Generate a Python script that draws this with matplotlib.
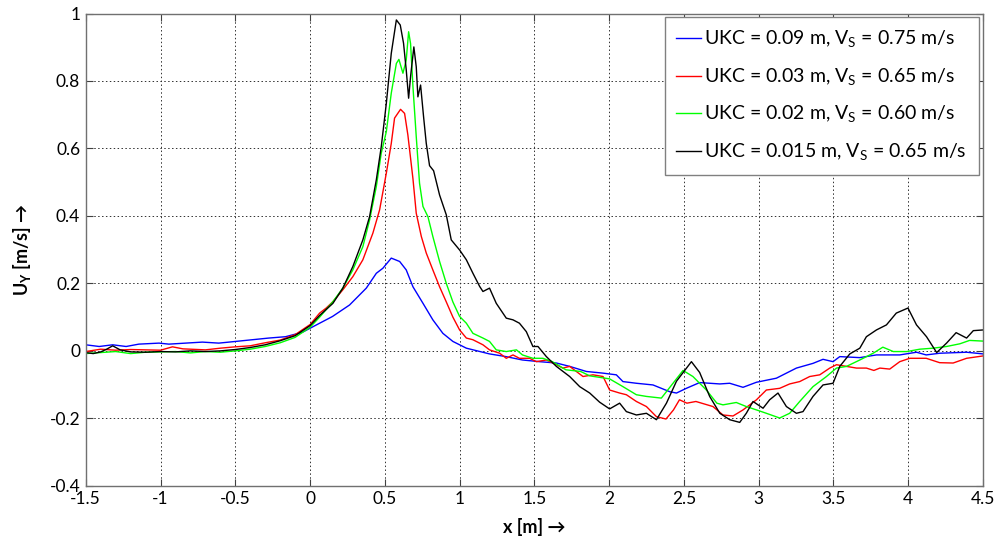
import matplotlib
matplotlib.use('Agg')
import matplotlib.pyplot as plt

plt.rcParams['font.family'] = ['Lato', 'DejaVu Sans']
plt.rcParams['mathtext.fontset'] = 'custom'
plt.rcParams['mathtext.rm'] = 'Lato'
plt.rcParams['mathtext.bf'] = 'Lato:bold'
plt.rcParams['axes.unicode_minus'] = False

# UKC = 0.09 m, Vs = 0.75 m/s
x_blue = [-1.50, -1.41, -1.32, -1.23, -1.145, -1.01, -0.944, -0.833, -0.72, -0.61,
          -0.498, -0.387, -0.276, -0.164, -0.052, 0.064, 0.15, 0.264, 0.376, 0.443,
          0.487, 0.543, 0.599, 0.643, 0.688, 0.755, 0.821, 0.888, 0.955, 1.045,
          1.2, 1.31, 1.42, 1.535, 1.647, 1.736, 1.847, 1.959, 2.048, 2.092,
          2.182, 2.293, 2.349, 2.405, 2.45, 2.516, 2.605, 2.74, 2.806, 2.895,
          2.985, 3.118, 3.252, 3.363, 3.43, 3.497, 3.542, 3.676, 3.787, 3.943,
          4.055, 4.12, 4.21, 4.39, 4.5]
y_blue = [0.018, 0.013, 0.018, 0.013, 0.020, 0.023, 0.020, 0.023, 0.026, 0.023,
          0.028, 0.033, 0.038, 0.042, 0.055, 0.082, 0.102, 0.136, 0.186, 0.230,
          0.245, 0.275, 0.265, 0.240, 0.190, 0.141, 0.092, 0.052, 0.028, 0.008,
          -0.009, -0.017, -0.027, -0.032, -0.036, -0.046, -0.061, -0.066, -0.071, -0.091,
          -0.096, -0.101, -0.111, -0.121, -0.125, -0.111, -0.094, -0.098, -0.096, -0.108,
          -0.093, -0.081, -0.051, -0.037, -0.025, -0.032, -0.017, -0.020, -0.012, -0.012,
          -0.004, -0.012, -0.007, -0.004, -0.009]

# UKC = 0.03 m, Vs = 0.65 m/s
x_red = [-1.5, -1.4, -1.3, -1.2, -1.1, -1.0, -0.92, -0.85, -0.7, -0.6,
         -0.5, -0.4, -0.3, -0.2, -0.1, 0.0, 0.064, 0.108, 0.153, 0.219,
         0.286, 0.353, 0.42, 0.465, 0.51, 0.543, 0.565, 0.605, 0.632, 0.654,
         0.688, 0.71, 0.744, 0.777, 0.821, 0.866, 0.911, 0.955, 1.0, 1.045,
         1.089, 1.156, 1.2, 1.268, 1.312, 1.357, 1.40, 1.468, 1.513, 1.58,
         1.647, 1.69, 1.736, 1.825, 1.892, 1.959, 2.003, 2.07, 2.115, 2.182,
         2.249, 2.316, 2.38, 2.43, 2.47, 2.52, 2.58, 2.694, 2.761, 2.828,
         2.895, 2.985, 3.051, 3.14, 3.207, 3.274, 3.341, 3.408, 3.475, 3.52,
         3.587, 3.654, 3.72, 3.77, 3.81, 3.876, 3.943, 4.01, 4.12, 4.21,
         4.30, 4.39, 4.5]
y_red = [-0.002, 0.005, 0.002, 0.004, 0.003, 0.002, 0.012, 0.006, 0.003, 0.008,
         0.012, 0.015, 0.024, 0.032, 0.048, 0.078, 0.112, 0.127, 0.146, 0.181,
         0.220, 0.270, 0.349, 0.418, 0.527, 0.615, 0.690, 0.716, 0.704, 0.640,
         0.510, 0.408, 0.339, 0.290, 0.240, 0.190, 0.145, 0.100, 0.062, 0.038,
         0.033, 0.018, 0.003, -0.007, -0.022, -0.012, -0.022, -0.022, -0.032, -0.027,
         -0.041, -0.051, -0.046, -0.076, -0.071, -0.076, -0.116, -0.125, -0.130, -0.150,
         -0.165, -0.195, -0.202, -0.175, -0.145, -0.155, -0.150, -0.165, -0.190, -0.193,
         -0.175, -0.145, -0.116, -0.111, -0.098, -0.091, -0.076, -0.071, -0.051, -0.041,
         -0.046, -0.051, -0.051, -0.058, -0.051, -0.054, -0.032, -0.022, -0.022, -0.035,
         -0.036, -0.022, -0.015]

# UKC = 0.02 m, Vs = 0.60 m/s
x_green = [-1.5, -1.4, -1.3, -1.2, -1.1, -1.0, -0.9, -0.8, -0.7, -0.6,
           -0.5, -0.4, -0.3, -0.2, -0.1, 0.0, 0.064, 0.153, 0.219, 0.286,
           0.353, 0.398, 0.443, 0.476, 0.51, 0.543, 0.577, 0.594, 0.621, 0.643,
           0.659, 0.672, 0.688, 0.71, 0.732, 0.755, 0.788, 0.821, 0.866, 0.911,
           0.955, 1.0, 1.045, 1.089, 1.156, 1.2, 1.245, 1.312, 1.38, 1.42,
           1.49, 1.557, 1.62, 1.71, 1.809, 1.87, 2.003, 2.092, 2.182, 2.249,
           2.349, 2.427, 2.494, 2.56, 2.65, 2.72, 2.761, 2.85, 2.917, 2.985,
           3.051, 3.14, 3.207, 3.274, 3.363, 3.453, 3.52, 3.587, 3.676, 3.765,
           3.83, 3.90, 3.99, 4.077, 4.166, 4.256, 4.345, 4.41, 4.5]
y_green = [-0.008, -0.005, -0.002, -0.008, -0.004, -0.003, -0.002, -0.006, -0.002, -0.004,
           0.000, 0.005, 0.013, 0.024, 0.040, 0.070, 0.100, 0.146, 0.186, 0.240,
           0.309, 0.388, 0.487, 0.586, 0.650, 0.764, 0.852, 0.864, 0.823, 0.862,
           0.946, 0.911, 0.783, 0.635, 0.497, 0.428, 0.398, 0.339, 0.265, 0.200,
           0.145, 0.102, 0.082, 0.052, 0.038, 0.028, 0.003, -0.002, 0.003, -0.012,
           -0.022, -0.022, -0.032, -0.056, -0.061, -0.074, -0.083, -0.106, -0.130, -0.135,
           -0.140, -0.096, -0.058, -0.076, -0.116, -0.155, -0.160, -0.153, -0.165, -0.175,
           -0.185, -0.199, -0.185, -0.150, -0.106, -0.076, -0.051, -0.046, -0.027, -0.007,
           0.011, -0.002, -0.002, 0.005, 0.008, 0.013, 0.021, 0.031, 0.029]

# UKC = 0.015 m, Vs = 0.65 m/s
x_black = [-1.5, -1.45, -1.4, -1.36, -1.32, -1.27, -1.2, -1.1, -1.0, -0.9,
           -0.8, -0.7, -0.6, -0.5, -0.4, -0.3, -0.2, -0.1, 0.0, 0.064,
           0.153, 0.219, 0.286, 0.353, 0.398, 0.443, 0.476, 0.51, 0.543, 0.577,
           0.603, 0.625, 0.643, 0.659, 0.672, 0.694, 0.71, 0.721, 0.739, 0.759,
           0.777, 0.799, 0.826, 0.866, 0.911, 0.944, 1.0, 1.045, 1.089, 1.134,
           1.156, 1.2, 1.245, 1.312, 1.357, 1.40, 1.446, 1.49, 1.524, 1.58,
           1.647, 1.736, 1.803, 1.87, 1.936, 2.003, 2.07, 2.115, 2.182, 2.249,
           2.316, 2.383, 2.45, 2.55, 2.605, 2.672, 2.74, 2.806, 2.873, 2.917,
           2.962, 3.029, 3.073, 3.129, 3.185, 3.252, 3.296, 3.363, 3.43, 3.497,
           3.542, 3.609, 3.676, 3.72, 3.787, 3.854, 3.92, 3.998, 4.055, 4.122,
           4.19, 4.256, 4.32, 4.39, 4.435, 4.5]
y_black = [-0.005, -0.008, -0.003, 0.005, 0.015, 0.003, -0.003, -0.004, -0.002, -0.003,
           0.000, -0.002, 0.000, 0.004, 0.010, 0.018, 0.030, 0.045, 0.075, 0.105,
           0.141, 0.186, 0.250, 0.329, 0.398, 0.507, 0.605, 0.734, 0.882, 0.981,
           0.966, 0.912, 0.833, 0.749, 0.813, 0.901, 0.842, 0.753, 0.788, 0.694,
           0.615, 0.549, 0.534, 0.462, 0.403, 0.329, 0.299, 0.270, 0.230, 0.191,
           0.176, 0.186, 0.141, 0.097, 0.092, 0.082, 0.057, 0.013, 0.013, -0.017,
           -0.046, -0.076, -0.106, -0.125, -0.152, -0.172, -0.155, -0.180, -0.190, -0.185,
           -0.204, -0.155, -0.090, -0.032, -0.064, -0.135, -0.185, -0.204, -0.212, -0.185,
           -0.150, -0.170, -0.145, -0.125, -0.165, -0.185, -0.180, -0.135, -0.101, -0.096,
           -0.046, -0.009, 0.008, 0.042, 0.062, 0.077, 0.112, 0.127, 0.077, 0.042,
           -0.005, 0.023, 0.054, 0.038, 0.060, 0.062]

labels = [r'UKC = 0.09 m, V$_\mathregular{S}$ = 0.75 m/s',
          r'UKC = 0.03 m, V$_\mathregular{S}$ = 0.65 m/s',
          r'UKC = 0.02 m, V$_\mathregular{S}$ = 0.60 m/s',
          r'UKC = 0.015 m, V$_\mathregular{S}$ = 0.65 m/s']

xticks = [-1.5, -1, -0.5, 0, 0.5, 1, 1.5, 2, 2.5, 3, 3.5, 4, 4.5]
xticklabels = ['-1.5', '-1', '-0.5', '0', '0.5', '1', '1.5', '2', '2.5', '3', '3.5', '4', '4.5']
yticks = [-0.4, -0.2, 0, 0.2, 0.4, 0.6, 0.8, 1]
yticklabels = ['-0.4', '-0.2', '0', '0.2', '0.4', '0.6', '0.8', '1']

fig = plt.figure(figsize=(9.97, 5.41), dpi=100)
ax = fig.add_axes([0.086, 0.102, 0.900, 0.873])

ax.plot(x_blue, y_blue, color='#0000FF', lw=1.0, label=labels[0])
ax.plot(x_red, y_red, color='#FF0000', lw=1.0, label=labels[1])
ax.plot(x_green, y_green, color='#00FF00', lw=1.0, label=labels[2])
ax.plot(x_black, y_black, color='black', lw=1.0, label=labels[3])

ax.set_xlim(-1.5, 4.5)
ax.set_ylim(-0.4, 1)
ax.set_xticks(xticks)
ax.set_xticklabels(xticklabels)
ax.set_yticks(yticks)
ax.set_yticklabels(yticklabels)
ax.tick_params(direction='in', length=5, width=0.8, top=True, right=True,
               labelsize=12.5, colors='#404040', labelcolor='black', pad=4)

ax.grid(True, color='#303030', linestyle=(0, (1.5, 2.5)), linewidth=0.7)
for s in ax.spines.values():
    s.set_color('#707070')
    s.set_linewidth(1.0)

ax.set_xlabel('x [m] \u2192', fontsize=13, fontweight='bold', labelpad=8)
ax.set_ylabel('U$_\\mathregular{Y}$ [m/s] \u2192', fontsize=13, fontweight='bold', labelpad=12)

leg = ax.legend(loc='upper right', bbox_to_anchor=(0.995, 0.993), borderaxespad=0,
                fontsize=14, fancybox=False, framealpha=1, edgecolor='#808080',
                handlelength=1.3, handletextpad=0.15, labelspacing=0.85,
                borderpad=0.6)
leg.get_frame().set_linewidth(1.0)

fig.savefig('out.png', dpi=100)
